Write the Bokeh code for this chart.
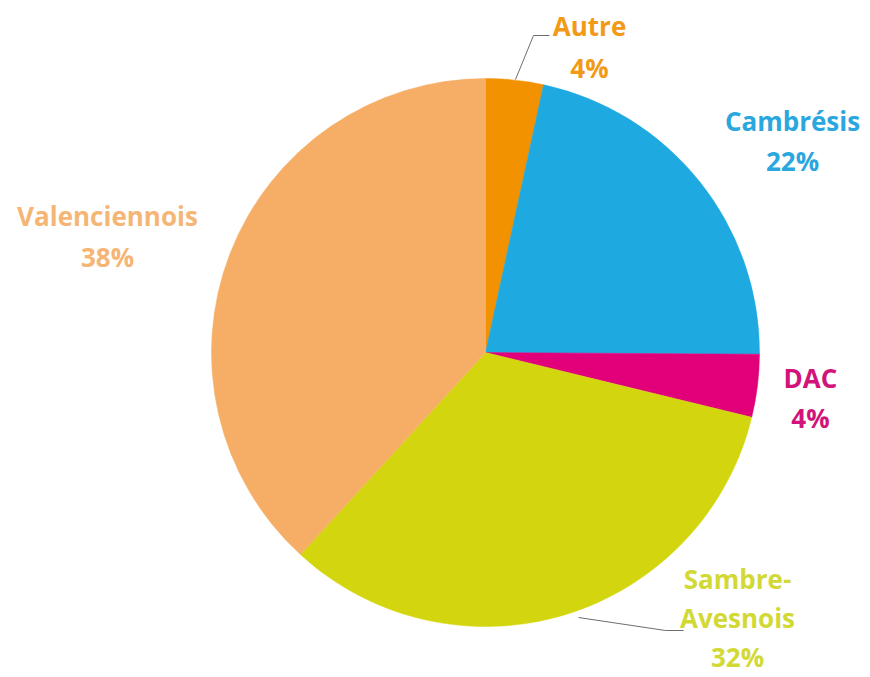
import math
from bokeh.plotting import figure
from bokeh.models import Range1d, ColumnDataSource
from bokeh.core.properties import value
from bokeh.embed import file_html
from bokeh.resources import INLINE

categories = ["Autre", "Cambrésis", "DAC", "Sambre-Avesnois", "Valenciennois"]
shares = [3.4, 21.7, 3.7, 33.0, 38.2]
slice_colors = ["#F39200", "#1EA9E1", "#E2007A", "#D3D60E", "#F6AE66"]
label_colors = ["#F29A16", "#2AA7DE", "#D1137A", "#D2D935", "#F5B675"]
label_lines = [["Autre", "4%"], ["Cambrésis", "22%"], ["DAC", "4%"],
               ["Sambre-", "Avesnois", "32%"], ["Valenciennois", "38%"]]

# ---- layout (pixel-like coordinates, y up) ----
W, H = 870, 677
H_IMG = 677
cx, cy, r = 485, H_IMG - 352, 274

p = figure(width=W, height=H, output_backend="svg", toolbar_location=None,
           x_range=Range1d(0, W), y_range=Range1d(H_IMG - H, H_IMG),
           min_border=0)
p.axis.visible = False
p.grid.visible = False
p.outline_line_color = None
p.background_fill_color = "white"
p.border_fill_color = "white"

total = float(sum(shares))
starts, ends = [], []
cum = 0.0
for s in shares:
    starts.append(math.pi / 2 - 2 * math.pi * cum / total)
    cum += s
    ends.append(math.pi / 2 - 2 * math.pi * cum / total)

src = ColumnDataSource(dict(x=[cx] * len(shares), y=[cy] * len(shares),
                            start=starts, end=ends, color=slice_colors))
p.wedge(x="x", y="y", radius=r, start_angle="start", end_angle="end",
        direction="clock", fill_color="color", line_color="color",
        line_width=0.5, source=src)

# leader lines (image coordinates)
leaders = [
    [(515, 79), (533, 35), (549, 35)],
    [(578, 617), (665, 630), (683, 630)],
]
for pts in leaders:
    p.line([q[0] for q in pts], [H_IMG - q[1] for q in pts],
           line_color="#6E6E6E", line_width=1)

# label anchor positions (center x, first line y) in image coords, line spacing
anchors = [(589, 25), (792, 120), (810, 377), (737, 578), (107, 215)]
spacings = [42, 40, 40, 39, 41]

tx, ty, tt, tc = [], [], [], []
for (ax, ay), lines, col, sp in zip(anchors, label_lines, label_colors, spacings):
    for i, ln in enumerate(lines):
        tx.append(ax)
        ty.append(H_IMG - (ay + i * sp))
        tt.append(ln)
        tc.append(col)

tsrc = ColumnDataSource(dict(x=tx, y=ty, text=tt, color=tc))
p.text(x="x", y="y", text="text", source=tsrc, text_color="color",
       text_align="center", text_baseline="middle",
       text_font=value("Open Sans"), text_font_style="bold",
       text_font_size="26px")

open("out.html", "w").write(file_html(p, INLINE))
